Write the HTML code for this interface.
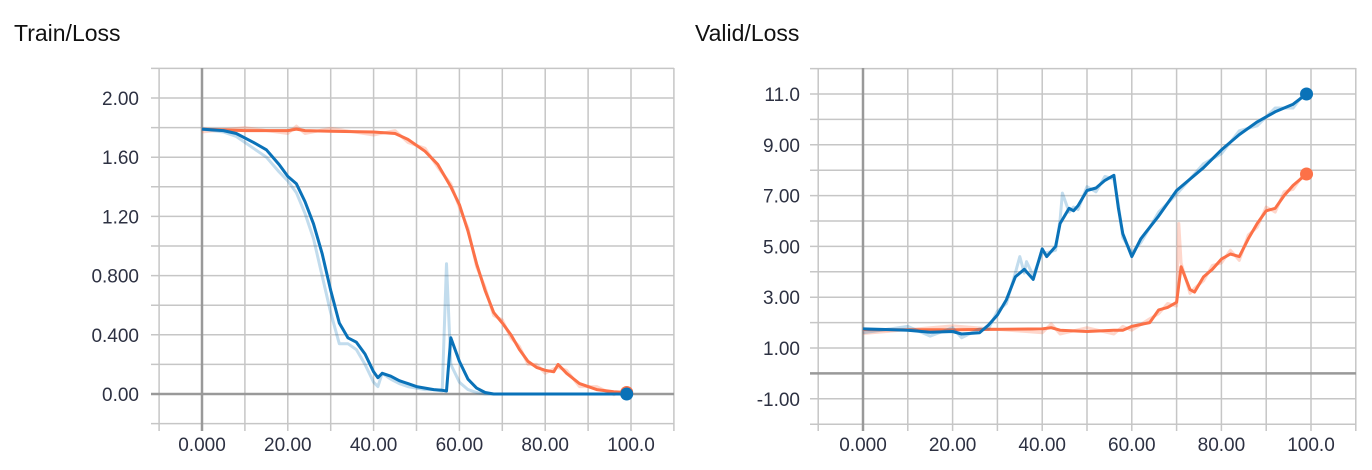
<!DOCTYPE html>
<html><head><meta charset="utf-8"><style>
body{margin:0;background:#fff;width:1372px;height:470px;overflow:hidden;font-family:"Liberation Sans",sans-serif}
svg{position:absolute;left:0;top:0}
</style></head><body>
<svg id="s" width="1372" height="470" xmlns="http://www.w3.org/2000/svg">
<text x="14" y="41" font-size="23" fill="#111">Train/Loss</text>
<text x="695" y="41" font-size="23" fill="#111">Valid/Loss</text>
</svg>
<script>
const S=document.getElementById('s');const NS='http://www.w3.org/2000/svg';
function el(t,a,txt){const e=document.createElementNS(NS,t);for(const k in a)e.setAttribute(k,a[k]);if(txt)e.textContent=txt;S.appendChild(e);return e;}
function chart(o){
 const X=s=>o.x0+s*o.xs, Y=v=>o.y0-v*o.ys;
 for(let s=-10;s<=110;s+=10){const x=X(s);el('line',{x1:x,x2:x,y1:o.top,y2:o.bot+6,stroke:'#c6c6c6','stroke-width':1.5});}
 for(const v of o.hl){const y=Y(v);el('line',{x1:o.left-8,x2:o.right,y1:y,y2:y,stroke:'#c6c6c6','stroke-width':1.5});}
 el('line',{x1:X(0),x2:X(0),y1:o.top,y2:o.bot+6,stroke:'#999','stroke-width':2.5});
 el('line',{x1:o.left-8,x2:o.right,y1:Y(0),y2:Y(0),stroke:'#999','stroke-width':2.5});
 for(const [v,t] of o.yl)el('text',{x:o.ylx,y:Y(v)+7,'font-size':19,fill:'#2d3142','text-anchor':'end'},t);
 [[0,'0.000'],[20,'20.00'],[40,'40.00'],[60,'60.00'],[80,'80.00'],[100,'100.0']].forEach(([s,t])=>el('text',{x:X(s),y:451,'font-size':19,fill:'#2d3142','text-anchor':'middle'},t));
 for(const [d,c,lc,f] of o.series){
  const p=d.map(([s,v])=>X(s).toFixed(1)+','+Y(v).toFixed(1)).join(' ');
  const pf=f.map(([s,v])=>X(s).toFixed(1)+','+Y(v).toFixed(1)).join(' ');
  el('polyline',{points:pf,fill:'none',stroke:lc,'stroke-width':3,'stroke-linejoin':'round'});
  el('polyline',{points:p,fill:'none',stroke:c,'stroke-width':3,'stroke-linejoin':'round'});
 }
 for(const [d,c] of o.dots){const l=d[d.length-1];el('circle',{cx:X(l[0]),cy:Y(l[1]),r:6.5,fill:c});}
}
function jit(d,a,extra){const r=d.map(([s,v],i)=>[s,v+(i%2?a:-a)]);if(extra)extra.forEach(e=>r.push(e));return r.sort((p,q)=>p[0]-q[0]);}
const B='#0a72b8',O='#fc7148',BL='rgba(10,114,184,0.25)',OL='rgba(252,113,72,0.28)';
const tb=[[0,1.79],[5,1.78],[8,1.76],[12,1.70],[15,1.65],[18,1.55],[20,1.47],[22,1.42],[24,1.30],[26,1.15],[28,0.95],[30,0.70],[32,0.48],[34,0.38],[36,0.35],[38,0.27],[40,0.15],[41,0.11],[42,0.14],[44,0.12],[46,0.09],[48,0.07],[50,0.05],[52,0.04],[54,0.03],[56,0.025],[57,0.02],[58,0.38],[60,0.22],[62,0.1],[64,0.04],[66,0.01],[68,0],[80,0],[99,0]];
const tbf=[[0,1.79],[5,1.77],[8,1.74],[12,1.66],[15,1.6],[18,1.5],[20,1.44],[22,1.36],[24,1.22],[26,1.05],[28,0.8],[30,0.55],[32,0.34],[34,0.34],[36,0.3],[38,0.2],[40,0.08],[41,0.05],[42,0.14],[44,0.1],[46,0.07],[48,0.05],[50,0.04],[52,0.03],[54,0.03],[56,0.02],[57,0.88],[58,0.2],[60,0.08],[62,0.03],[64,0.01],[66,0],[99,0]];
const to=[[0,1.79],[10,1.78],[20,1.78],[22,1.79],[24,1.78],[30,1.775],[40,1.77],[45,1.76],[48,1.72],[52,1.64],[55,1.55],[58,1.40],[60,1.28],[62,1.10],[64,0.88],[66,0.70],[68,0.55],[70,0.48],[72,0.40],[74,0.30],[76,0.22],[78,0.18],[80,0.16],[82,0.15],[83,0.2],[85,0.14],[88,0.07],[92,0.03],[96,0.015],[99,0.01]];
chart({x0:202,xs:4.29,y0:394,ys:148,top:68,bot:425,left:159,right:674,
 hl:[2.2,2,1.8,1.6,1.4,1.2,1,0.8,0.6,0.4,0.2,0,-0.2],
 yl:[[2,'2.00'],[1.6,'1.60'],[1.2,'1.20'],[0.8,'0.800'],[0.4,'0.400'],[0,'0.00']],ylx:139,
 series:[[to,O,OL,jit(to,0.02)],[tb,B,BL,tbf]],dots:[[to,O],[tb,B]]});
const vb=[[0,1.75],[10,1.7],[15,1.62],[20,1.65],[22,1.55],[26,1.6],[28,1.9],[30,2.3],[32,2.9],[34,3.8],[36,4.1],[38,3.7],[40,4.9],[41,4.6],[43,5.0],[44,5.9],[46,6.5],[47,6.4],[48,6.6],[50,7.2],[52,7.3],[54,7.6],[56,7.8],[57,6.5],[58,5.5],[60,4.6],[62,5.3],[66,6.2],[70,7.2],[76,8.1],[80,8.8],[84,9.4],[88,9.9],[92,10.3],[96,10.6],[99,11.0]];
const vo=[[0,1.72],[20,1.72],[40,1.75],[42,1.8],[44,1.7],[50,1.65],[56,1.7],[58,1.7],[60,1.85],[64,2.0],[66,2.5],[68,2.6],[70,2.8],[71,4.2],[73,3.3],[74,3.2],[76,3.8],[78,4.1],[80,4.5],[82,4.7],[84,4.6],[86,5.3],[88,5.9],[90,6.4],[92,6.5],[94,7.0],[96,7.4],[99,7.85]];
chart({x0:863,xs:4.48,y0:373.4,ys:25.4,top:68,bot:425,left:818,right:1356,
 hl:[12,11,10,9,8,7,6,5,4,3,2,1,0,-1,-2],
 yl:[[11,'11.0'],[9,'9.00'],[7,'7.00'],[5,'5.00'],[3,'3.00'],[1,'1.00'],[-1,'-1.00']],ylx:800,
 series:[[vo,O,OL,jit(vo,0.15,[[70.5,5.9]])],[vb,B,BL,jit(vb,0.15,[[35,4.6],[44.5,7.1],[36.5,4.4]])]],dots:[[vo,O],[vb,B]]});
</script>
</body></html>
